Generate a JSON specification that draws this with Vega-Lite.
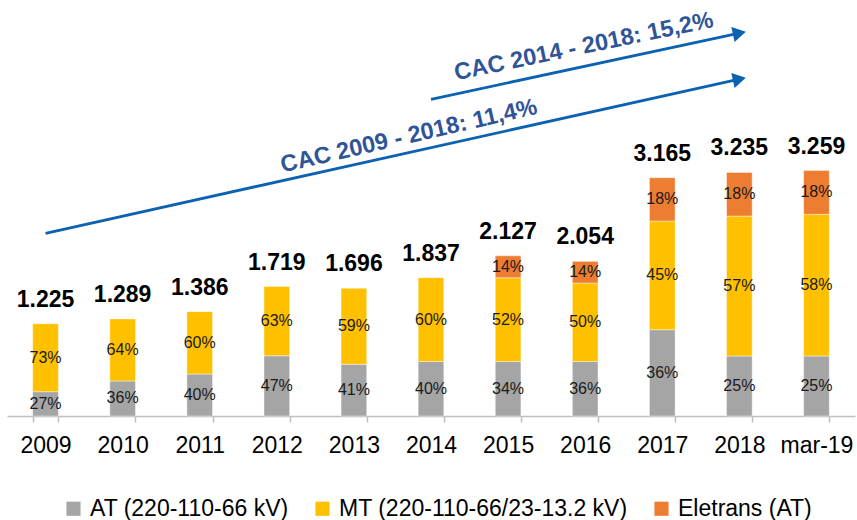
{
  "$schema": "https://vega.github.io/schema/vega-lite/v6.json",
  "autosize": {"type": "none"},
  "width": 848,
  "height": 416,
  "padding": {"left": 7, "top": 0, "right": 2, "bottom": 104},
  "background": "white",
  "config": {
    "view": {"stroke": null},
    "font": "Liberation Sans",
    "text": {"font": "Liberation Sans"}
  },
  "datasets": {
    "bars": [
      {"year": "2009", "series": "AT (220-110-66 kV)", "ord": 1, "value": 323, "pct": "27%"},
      {"year": "2009", "series": "MT (220-110-66/23-13.2 kV)", "ord": 2, "value": 902, "pct": "73%"},
      {"year": "2010", "series": "AT (220-110-66 kV)", "ord": 1, "value": 465, "pct": "36%"},
      {"year": "2010", "series": "MT (220-110-66/23-13.2 kV)", "ord": 2, "value": 824, "pct": "64%"},
      {"year": "2011", "series": "AT (220-110-66 kV)", "ord": 1, "value": 558, "pct": "40%"},
      {"year": "2011", "series": "MT (220-110-66/23-13.2 kV)", "ord": 2, "value": 828, "pct": "60%"},
      {"year": "2012", "series": "AT (220-110-66 kV)", "ord": 1, "value": 800, "pct": "47%"},
      {"year": "2012", "series": "MT (220-110-66/23-13.2 kV)", "ord": 2, "value": 919, "pct": "63%"},
      {"year": "2013", "series": "AT (220-110-66 kV)", "ord": 1, "value": 687, "pct": "41%"},
      {"year": "2013", "series": "MT (220-110-66/23-13.2 kV)", "ord": 2, "value": 1009, "pct": "59%"},
      {"year": "2014", "series": "AT (220-110-66 kV)", "ord": 1, "value": 724, "pct": "40%"},
      {"year": "2014", "series": "MT (220-110-66/23-13.2 kV)", "ord": 2, "value": 1113, "pct": "60%"},
      {"year": "2015", "series": "AT (220-110-66 kV)", "ord": 1, "value": 724, "pct": "34%"},
      {"year": "2015", "series": "MT (220-110-66/23-13.2 kV)", "ord": 2, "value": 1111, "pct": "52%"},
      {"year": "2015", "series": "Eletrans (AT)", "ord": 3, "value": 292, "pct": "14%"},
      {"year": "2016", "series": "AT (220-110-66 kV)", "ord": 1, "value": 724, "pct": "36%"},
      {"year": "2016", "series": "MT (220-110-66/23-13.2 kV)", "ord": 2, "value": 1042, "pct": "50%"},
      {"year": "2016", "series": "Eletrans (AT)", "ord": 3, "value": 288, "pct": "14%"},
      {"year": "2017", "series": "AT (220-110-66 kV)", "ord": 1, "value": 1146, "pct": "36%"},
      {"year": "2017", "series": "MT (220-110-66/23-13.2 kV)", "ord": 2, "value": 1444, "pct": "45%"},
      {"year": "2017", "series": "Eletrans (AT)", "ord": 3, "value": 575, "pct": "18%"},
      {"year": "2018", "series": "AT (220-110-66 kV)", "ord": 1, "value": 797, "pct": "25%"},
      {"year": "2018", "series": "MT (220-110-66/23-13.2 kV)", "ord": 2, "value": 1858, "pct": "57%"},
      {"year": "2018", "series": "Eletrans (AT)", "ord": 3, "value": 580, "pct": "18%"},
      {"year": "mar-19", "series": "AT (220-110-66 kV)", "ord": 1, "value": 797, "pct": "25%"},
      {"year": "mar-19", "series": "MT (220-110-66/23-13.2 kV)", "ord": 2, "value": 1882, "pct": "58%"},
      {"year": "mar-19", "series": "Eletrans (AT)", "ord": 3, "value": 580, "pct": "18%"}
    ],
    "totals": [
      {"year": "2009", "total": 1225, "label": "1.225"},
      {"year": "2010", "total": 1289, "label": "1.289"},
      {"year": "2011", "total": 1386, "label": "1.386"},
      {"year": "2012", "total": 1719, "label": "1.719"},
      {"year": "2013", "total": 1696, "label": "1.696"},
      {"year": "2014", "total": 1837, "label": "1.837"},
      {"year": "2015", "total": 2127, "label": "2.127"},
      {"year": "2016", "total": 2054, "label": "2.054"},
      {"year": "2017", "total": 3165, "label": "3.165"},
      {"year": "2018", "total": 3235, "label": "3.235"},
      {"year": "mar-19", "total": 3259, "label": "3.259"}
    ],
    "arrows": [
      {"name": "a", "from": "2009", "to": "2018", "y0": 2426, "y1": 4475, "label": "CAC 2009 - 2018: 11,4%", "ly": 3688, "lx": "2014"},
      {"name": "b", "from": "2014", "to": "2018", "y0": 4206, "y1": 5086, "label": "CAC 2014 - 2018: 15,2%", "ly": 4814, "lx": "2016"}
    ]
  },
  "encoding": {
    "x": {
      "field": "year", "type": "nominal",
      "scale": {"domain": ["2009","2010","2011","2012","2013","2014","2015","2016","2017","2018","mar-19"], "paddingInner": 0.667, "paddingOuter": 0.3335},
      "axis": {
        "title": null, "labelAngle": 0, "labelFontSize": 23, "labelColor": "#000000",
        "labelFont": "Liberation Sans", "labelPadding": 12,
        "domainColor": "#BFBFBF", "domainWidth": 1.5,
        "tickColor": "#BFBFBF", "tickSize": 6, "tickWidth": 1.5, "tickBand": "extent"
      }
    }
  },
  "layer": [
    {
      "data": {"name": "bars"},
      "transform": [
        {"stack": "value", "groupby": ["year"], "sort": [{"field": "ord", "order": "ascending"}], "as": ["v0", "v1"]},
        {"calculate": "(datum.v0 + datum.v1) / 2", "as": "mid"}
      ],
      "layer": [
        {
          "mark": {"type": "bar", "stroke": "#ffffff", "strokeWidth": 0.6, "strokeOpacity": 0.7},
          "encoding": {
            "y": {"field": "v0", "type": "quantitative", "scale": {"domain": [0, 5525], "nice": false, "zero": true}, "axis": null},
            "y2": {"field": "v1"},
            "color": {
              "field": "series", "type": "nominal",
              "scale": {"domain": ["AT (220-110-66 kV)", "MT (220-110-66/23-13.2 kV)", "Eletrans (AT)"], "range": ["#A5A5A5", "#FFC000", "#ED7D31"]},
              "legend": {
                "title": null, "orient": "none", "direction": "horizontal",
                "legendX": 55, "legendY": 497,
                "symbolType": "square", "symbolSize": 200, "symbolStrokeWidth": 0,
                "labelFontSize": 23, "labelColor": "#000000", "labelFont": "Liberation Sans",
                "labelOffset": 5, "columnPadding": 22, "labelLimit": 400
              }
            }
          }
        },
        {
          "mark": {"type": "text", "fontSize": 16, "color": "#1a1a1a", "baseline": "middle", "font": "Liberation Sans"},
          "encoding": {
            "y": {"field": "mid", "type": "quantitative", "scale": {"domain": [0, 5525], "nice": false}},
            "text": {"field": "pct"}
          }
        }
      ]
    },
    {
      "data": {"name": "totals"},
      "mark": {"type": "text", "fontSize": 23, "fontWeight": "bold", "color": "#000000", "baseline": "alphabetic", "dy": -17, "font": "Liberation Sans"},
      "encoding": {
        "y": {"field": "total", "type": "quantitative", "scale": {"domain": [0, 5525], "nice": false}},
        "text": {"field": "label"}
      }
    },
    {
      "data": {"name": "arrows"},
      "layer": [
        {
          "mark": {"type": "rule", "color": "#0B62B0", "strokeWidth": 2.8},
          "encoding": {
            "x": {"field": "from", "type": "nominal"},
            "x2": {"field": "to"},
            "y": {"field": "y0", "type": "quantitative", "scale": {"domain": [0, 5525], "nice": false}},
            "y2": {"field": "y1"}
          }
        },
        {
          "mark": {"type": "point", "shape": "triangle-right", "filled": true, "opacity": 1, "color": "#0B62B0", "size": 230, "angle": 347.5},
          "encoding": {
            "x": {"field": "to", "type": "nominal"},
            "y": {"field": "y1", "type": "quantitative", "scale": {"domain": [0, 5525], "nice": false}}
          }
        },
        {
          "transform": [{"filter": "datum.name == 'a'"}],
          "mark": {"type": "text", "fontSize": 23.5, "fontWeight": "bold", "color": "#2F5597", "angle": 347, "baseline": "alphabetic", "align": "center", "dx": -21, "font": "Liberation Sans"},
          "encoding": {
            "x": {"field": "lx", "type": "nominal"},
            "y": {"field": "ly", "type": "quantitative", "scale": {"domain": [0, 5525], "nice": false}},
            "text": {"field": "label"}
          }
        },
        {
          "transform": [{"filter": "datum.name == 'b'"}],
          "mark": {"type": "text", "fontSize": 23.5, "fontWeight": "bold", "color": "#2F5597", "angle": 348.3, "baseline": "alphabetic", "align": "center", "font": "Liberation Sans"},
          "encoding": {
            "x": {"field": "lx", "type": "nominal"},
            "y": {"field": "ly", "type": "quantitative", "scale": {"domain": [0, 5525], "nice": false}},
            "text": {"field": "label"}
          }
        }
      ]
    }
  ]
}
